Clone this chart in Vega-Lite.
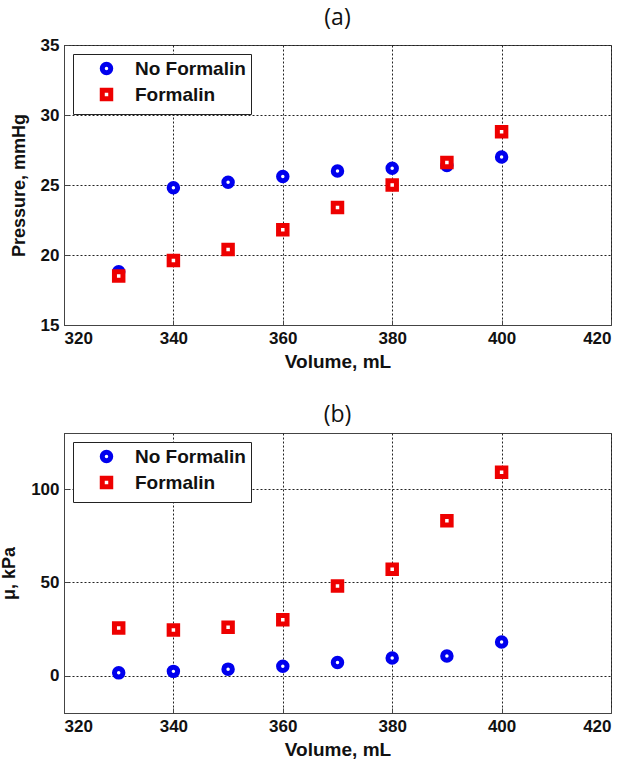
{
  "$schema": "https://vega.github.io/schema/vega-lite/v6.json",
  "padding": {"left": 0, "top": 6, "right": 2, "bottom": 2},
  "spacing": 31,
  "datasets": {
    "pts": [
      {"panel": "a", "volume": 330, "value": 18.8, "series": "No Formalin"},
      {"panel": "a", "volume": 340, "value": 24.8, "series": "No Formalin"},
      {"panel": "a", "volume": 350, "value": 25.2, "series": "No Formalin"},
      {"panel": "a", "volume": 360, "value": 25.6, "series": "No Formalin"},
      {"panel": "a", "volume": 370, "value": 26.0, "series": "No Formalin"},
      {"panel": "a", "volume": 380, "value": 26.2, "series": "No Formalin"},
      {"panel": "a", "volume": 390, "value": 26.4, "series": "No Formalin"},
      {"panel": "a", "volume": 400, "value": 27.0, "series": "No Formalin"},
      {"panel": "a", "volume": 330, "value": 18.5, "series": "Formalin"},
      {"panel": "a", "volume": 340, "value": 19.6, "series": "Formalin"},
      {"panel": "a", "volume": 350, "value": 20.4, "series": "Formalin"},
      {"panel": "a", "volume": 360, "value": 21.8, "series": "Formalin"},
      {"panel": "a", "volume": 370, "value": 23.4, "series": "Formalin"},
      {"panel": "a", "volume": 380, "value": 25.0, "series": "Formalin"},
      {"panel": "a", "volume": 390, "value": 26.6, "series": "Formalin"},
      {"panel": "a", "volume": 400, "value": 28.8, "series": "Formalin"},
      {"panel": "b", "volume": 330, "value": 1.5, "series": "No Formalin"},
      {"panel": "b", "volume": 340, "value": 2.3, "series": "No Formalin"},
      {"panel": "b", "volume": 350, "value": 3.5, "series": "No Formalin"},
      {"panel": "b", "volume": 360, "value": 5.0, "series": "No Formalin"},
      {"panel": "b", "volume": 370, "value": 7.0, "series": "No Formalin"},
      {"panel": "b", "volume": 380, "value": 9.5, "series": "No Formalin"},
      {"panel": "b", "volume": 390, "value": 10.5, "series": "No Formalin"},
      {"panel": "b", "volume": 400, "value": 18.0, "series": "No Formalin"},
      {"panel": "b", "volume": 330, "value": 25.5, "series": "Formalin"},
      {"panel": "b", "volume": 340, "value": 24.5, "series": "Formalin"},
      {"panel": "b", "volume": 350, "value": 26.0, "series": "Formalin"},
      {"panel": "b", "volume": 360, "value": 30.0, "series": "Formalin"},
      {"panel": "b", "volume": 370, "value": 48.0, "series": "Formalin"},
      {"panel": "b", "volume": 380, "value": 57.0, "series": "Formalin"},
      {"panel": "b", "volume": 390, "value": 83.0, "series": "Formalin"},
      {"panel": "b", "volume": 400, "value": 109.0, "series": "Formalin"}
    ]
  },
  "config": {
    "view": {"stroke": "#444444", "strokeWidth": 1},
    "title": {"font": "Open Sans", "fontSize": 23, "fontWeight": "normal", "color": "#111111", "frame": "group", "anchor": "middle", "offset": 6},
    "axis": {
      "labelFont": "Liberation Sans", "labelFontWeight": "bold", "labelFontSize": 17, "labelColor": "#111111",
      "titleFont": "Liberation Sans", "titleFontWeight": "bold", "titleFontSize": 19, "titleColor": "#111111",
      "domainColor": "#444444", "tickColor": "#444444", "tickSize": -5, "labelPadding": 10,
      "grid": true, "gridColor": "#222222", "gridDash": [2, 2], "gridWidth": 1, "gridOpacity": 1
    },
    "axisY": {"titleFontSize": 18, "titlePadding": 12},
    "axisX": {"labelPadding": 10, "titlePadding": 6},
    "legend": {
      "orient": "top-left", "offset": 9, "strokeColor": "#222222", "fillColor": "white",
      "padding": 5, "symbolOffset": 19, "labelOffset": 19, "rowPadding": -3,
      "labelFont": "Liberation Sans", "labelFontWeight": "bold", "labelFontSize": 19, "labelColor": "#111111",
      "symbolSize": 72, "symbolStrokeWidth": 5, "symbolFillColor": "white", "title": null
    }
  },
  "resolve": {"legend": {"color": "independent", "shape": "independent"}, "scale": {"y": "independent"}},
  "vconcat": [
    {
      "width": 547, "height": 280,
      "title": "(a)",
      "data": {"name": "pts"},
      "transform": [{"filter": "datum.panel === 'a'"}],
      "mark": {"type": "point", "filled": false, "fill": "white", "fillOpacity": 1, "strokeWidth": 5, "size": 72, "opacity": 1},
      "encoding": {
        "x": {"field": "volume", "type": "quantitative", "title": "Volume, mL", "scale": {"domain": [320, 420], "nice": false, "zero": false}, "axis": {"values": [320, 340, 360, 380, 400, 420]}},
        "y": {"field": "value", "type": "quantitative", "title": "Pressure, mmHg", "scale": {"domain": [15, 35], "nice": false, "zero": false}, "axis": {"values": [15, 20, 25, 30, 35]}},
        "color": {"field": "series", "type": "nominal", "scale": {"domain": ["No Formalin", "Formalin"], "range": ["#0000ee", "#ee0000"]}, "legend": {"title": null}},
        "shape": {"field": "series", "type": "nominal", "scale": {"domain": ["No Formalin", "Formalin"], "range": ["circle", "square"]}, "legend": {"title": null}}
      }
    },
    {
      "width": 547, "height": 280,
      "title": "(b)",
      "data": {"name": "pts"},
      "transform": [{"filter": "datum.panel === 'b'"}],
      "mark": {"type": "point", "filled": false, "fill": "white", "fillOpacity": 1, "strokeWidth": 5, "size": 72, "opacity": 1},
      "encoding": {
        "x": {"field": "volume", "type": "quantitative", "title": "Volume, mL", "scale": {"domain": [320, 420], "nice": false, "zero": false}, "axis": {"values": [320, 340, 360, 380, 400, 420]}},
        "y": {"field": "value", "type": "quantitative", "title": "μ, kPa", "scale": {"domain": [-20, 130], "nice": false, "zero": false}, "axis": {"values": [0, 50, 100]}},
        "color": {"field": "series", "type": "nominal", "scale": {"domain": ["No Formalin", "Formalin"], "range": ["#0000ee", "#ee0000"]}, "legend": {"title": null}},
        "shape": {"field": "series", "type": "nominal", "scale": {"domain": ["No Formalin", "Formalin"], "range": ["circle", "square"]}, "legend": {"title": null}}
      }
    }
  ]
}
